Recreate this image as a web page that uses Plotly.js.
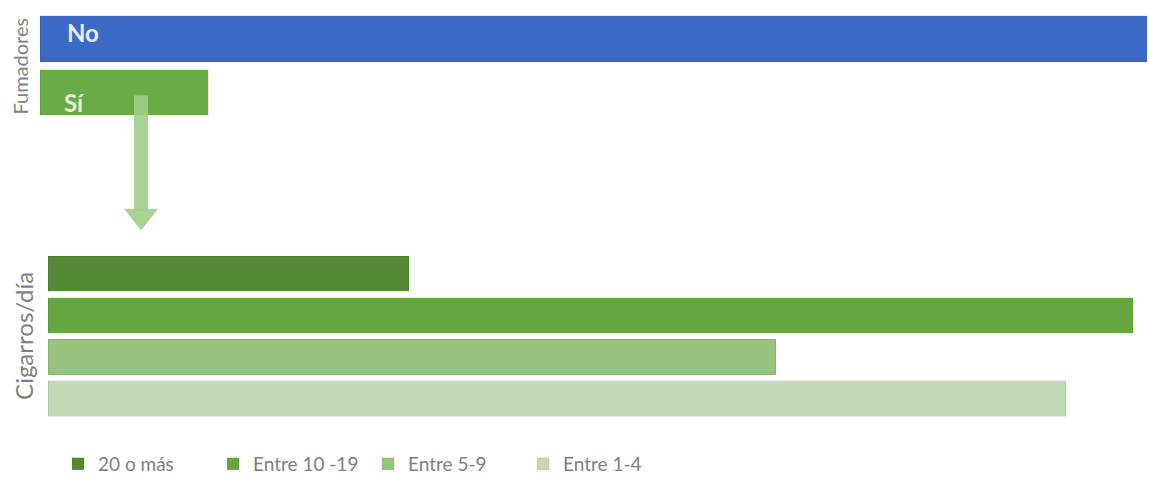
<!DOCTYPE html>
<html>
<head>
<meta charset="utf-8">
<script src="https://cdn.plot.ly/plotly-3.0.1.min.js"></script>
<style>html,body{margin:0;padding:0;background:#fff;}#chart{width:1149px;height:483px;}</style>
</head>
<body>
<div id="chart"></div>
<script>
// Data
const smokerCategories = ["No", "Sí"];
const smokerValues = [86.8, 13.2];
const smokerColors = ["#3c69c6", "#6aab45"];

const cigCategories = ["20 o más", "Entre 10 -19", "Entre 5-9", "Entre 1-4"];
const cigValues = [11.3, 34.0, 22.8, 31.9];
const cigColors = ["#548a35", "#65a63e", "#98c37f", "#c0dab3"];

const W = 1149, H = 483;
const px = v => v / W;
const py = v => 1 - v / H;

const traces = [{
  type: "bar", orientation: "h",
  y: smokerCategories, x: smokerValues,
  marker: {color: smokerColors, line: {width: 1, color: "rgba(0,0,0,0.08)"}},
  xaxis: "x", yaxis: "y", showlegend: false, hoverinfo: "x+y"
}];
cigCategories.forEach((c, i) => {
  traces.push({
    type: "bar", orientation: "h",
    name: c, y: [c], x: [cigValues[i]],
    marker: {color: cigColors[i], line: {width: 1, color: "rgba(0,0,0,0.08)"}},
    xaxis: "x2", yaxis: "y2"
  });
});

const hidden = {showgrid: false, zeroline: false, showline: false, showticklabels: false, ticks: ""};

const layout = {
  width: W, height: H,
  margin: {l: 0, r: 0, t: 0, b: 0},
  paper_bgcolor: "#fff", plot_bgcolor: "rgba(0,0,0,0)",
  barmode: "stack", bargap: 0.15,
  font: {family: "Lato, 'Open Sans', sans-serif", color: "#7f7f7f"},
  xaxis: Object.assign({domain: [px(40), px(1147)], range: [0, 86.8], anchor: "y"}, hidden),
  yaxis: Object.assign({domain: [py(120), py(12)], autorange: "reversed", type: "category", anchor: "x"}, hidden),
  xaxis2: Object.assign({domain: [px(48), px(1147)], range: [0, 34.44], anchor: "y2"}, hidden),
  yaxis2: Object.assign({domain: [py(422), py(254.5)], autorange: "reversed", type: "category", anchor: "x2"}, hidden),
  legend: {
    orientation: "h", x: px(58), xanchor: "left", y: py(467), yanchor: "middle",
    font: {size: 19, color: "#7f7f7f"}, traceorder: "normal", itemclick: false,
    entrywidth: 110, entrywidthmode: "pixels"
  },
  shapes: [
    {type: "rect", xref: "paper", yref: "paper",
     x0: px(134), x1: px(148), y0: py(96), y1: py(212),
     fillcolor: "#9fcf88", line: {width: 0}, opacity: 0.9},
    {type: "path", xref: "paper", yref: "paper",
     path: `M ${px(124)} ${py(210)} L ${px(158)} ${py(210)} L ${px(141)} ${py(232)} Z`,
     fillcolor: "#9fcf88", line: {width: 0}, opacity: 0.9}
  ],
  annotations: [
    {text: "Fumadores", xref: "paper", yref: "paper", x: px(20), y: py(67),
     xanchor: "center", yanchor: "middle", textangle: -90, showarrow: false,
     font: {size: 20, color: "#7f7f7f"}},
    {text: "Cigarros/día", xref: "paper", yref: "paper", x: px(24), y: py(338),
     xanchor: "center", yanchor: "middle", textangle: -90, showarrow: false,
     font: {size: 24, color: "#7f7f7f"}},
    {text: "<b>" + smokerCategories[0] + "</b>", xref: "paper", yref: "paper", x: px(65), y: py(33),
     xanchor: "left", yanchor: "middle", showarrow: false,
     font: {size: 24, color: "#e6ecf8"}},
    {text: "<b>" + smokerCategories[1] + "</b>", xref: "paper", yref: "paper", x: px(62), y: py(103),
     xanchor: "left", yanchor: "middle", showarrow: false,
     font: {size: 24, color: "#e3f0d9"}}
  ]
};

Plotly.newPlot("chart", traces, layout, {displayModeBar: false, staticPlot: true});
</script>
</body>
</html>
